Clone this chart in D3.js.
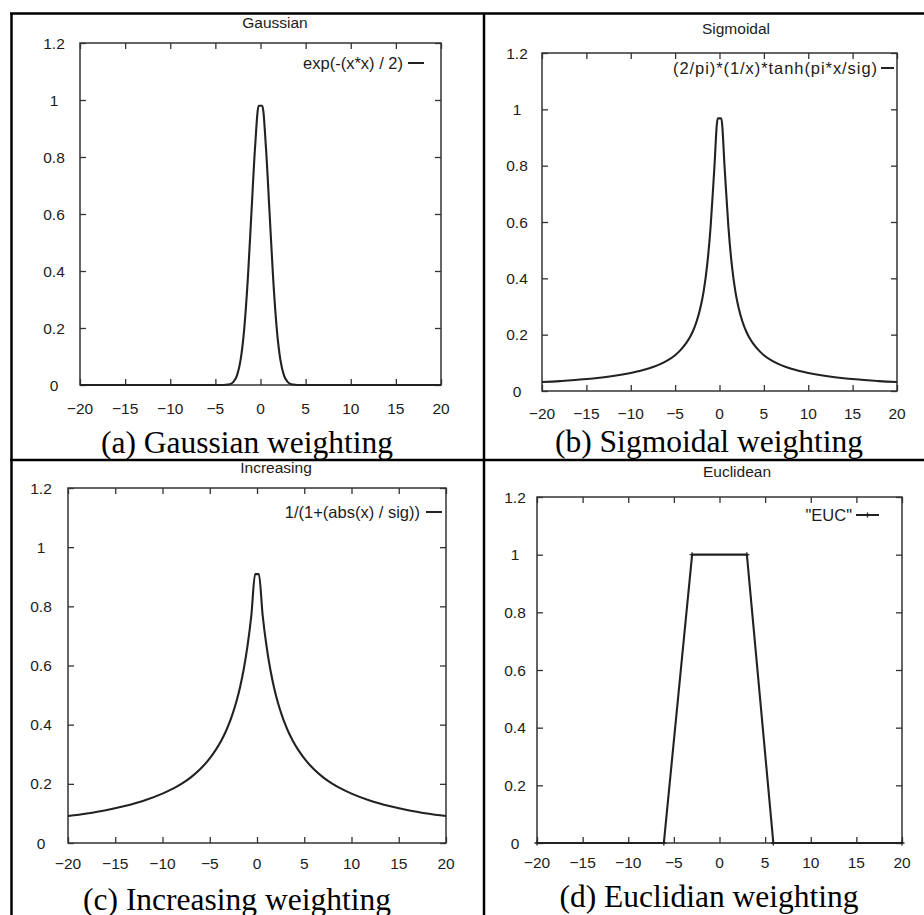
<!DOCTYPE html>
<html>
<head>
<meta charset="utf-8">
<script src="https://cdn.jsdelivr.net/npm/d3@7/dist/d3.min.js"></script>
<style>
  html, body { margin: 0; padding: 0; background: #fff; }
  svg { display: block; }
  .plot text { font-family: "Liberation Sans", Arial, sans-serif; fill: #1c1c1c; }
  .caption { font-family: "Liberation Serif", "Times New Roman", serif; fill: #000; }
</style>
</head>
<body>
<svg id="fig" width="924" height="915"></svg>
<script>
// ---- data -----------------------------------------------------------
const xGrid = [-20, -18, -16, -14, -12, -10, -9, -8, -7, -6, -5, -4.4, -3.8, -3.4, -3, -2.6, -2.2, -1.8, -1.4, -1, -0.6, -0.2,
               0.2, 0.6, 1, 1.4, 1.8, 2.2, 2.6, 3, 3.4, 3.8, 4.4, 5, 6, 7, 8, 9, 10, 12, 14, 16, 18, 20];

const gaussianY = [0, 0, 0, 0, 0, 0, 0, 0, 0, 0, 0, 0, 0.001, 0.003, 0.011, 0.034, 0.089, 0.198, 0.375, 0.607, 0.835, 0.980,
                   0.980, 0.835, 0.607, 0.375, 0.198, 0.089, 0.034, 0.011, 0.003, 0.001, 0, 0, 0, 0, 0, 0, 0, 0, 0, 0, 0, 0];

const sigmoidalY = [0.032, 0.035, 0.040, 0.045, 0.053, 0.064, 0.071, 0.080, 0.091, 0.106, 0.127, 0.145, 0.168, 0.187, 0.212, 0.245, 0.289, 0.351, 0.444, 0.584, 0.781, 0.968,
                    0.968, 0.781, 0.584, 0.444, 0.351, 0.289, 0.245, 0.212, 0.187, 0.168, 0.145, 0.127, 0.106, 0.091, 0.080, 0.071, 0.064, 0.053, 0.045, 0.040, 0.035, 0.032];

const increasingY = [0.091, 0.100, 0.111, 0.125, 0.143, 0.167, 0.182, 0.200, 0.222, 0.250, 0.286, 0.313, 0.345, 0.370, 0.400, 0.435, 0.476, 0.526, 0.588, 0.667, 0.769, 0.909,
                     0.909, 0.769, 0.667, 0.588, 0.526, 0.476, 0.435, 0.400, 0.370, 0.345, 0.313, 0.286, 0.250, 0.222, 0.200, 0.182, 0.167, 0.143, 0.125, 0.111, 0.100, 0.091];

const eucX = [-20, -6.1, -3, 3, 5.9, 20];
const eucY = [0, 0, 1, 1, 0, 0];

const xTicks = [-20, -15, -10, -5, 0, 5, 10, 15, 20];
const yTicks = [0, 0.2, 0.4, 0.6, 0.8, 1, 1.2];
const yTickLabels = ["0", "0.2", "0.4", "0.6", "0.8", "1", "1.2"];

const titles = ["Gaussian", "Sigmoidal", "Increasing", "Euclidean"];
const legendLabels = ["exp(-(x*x) / 2)", "(2/pi)*(1/x)*tanh(pi*x/sig)", "1/(1+(abs(x) / sig))", "\"EUC\""];
const captions = ["(a) Gaussian weighting", "(b) Sigmoidal weighting", "(c) Increasing weighting", "(d) Euclidian weighting"];

// ---- layout ---------------------------------------------------------
const panels = [
  { left: 80,  right: 441, top: 43,  bottom: 385, titleX: 275, titleY: 28,  ylabX: 54,  xlabY: 414,
    legY: 63,  legTextEnd: 403, legWidth: null, legLine: [408, 424], capX: 247, capY: 453,
    xs: xGrid, ys: gaussianY, markers: false },
  { left: 542, right: 897, top: 53,  bottom: 391, titleX: 736, titleY: 34,  ylabX: 517, xlabY: 419,
    legY: 68,  legTextEnd: 877, legWidth: 204, legLine: [881, 894], capX: 709, capY: 452,
    xs: xGrid, ys: sigmoidalY, markers: false },
  { left: 68,  right: 446, top: 488, bottom: 843, titleX: 276, titleY: 473, ylabX: 41,  xlabY: 869,
    legY: 512, legTextEnd: 420, legWidth: null, legLine: [426, 442], capX: 237, capY: 910,
    xs: xGrid, ys: increasingY, markers: false },
  { left: 537, right: 902, top: 497, bottom: 843, titleX: 737, titleY: 477, ylabX: 515, xlabY: 868,
    legY: 515, legTextEnd: 852, legWidth: null, legLine: [856, 879], capX: 709, capY: 907,
    xs: eucX, ys: eucY, markers: true }
];

const svg = d3.select("#fig");
const ink = "#222";
const fontPx = 15.5;

panels.forEach((p, i) => {
  const g = svg.append("g").attr("class", "plot");
  const x = d3.scaleLinear().domain([-20, 20]).range([p.left, p.right]);
  const y = d3.scaleLinear().domain([0, 1.2]).range([p.bottom, p.top]);
  const tick = 6;

  // frame with mirrored inward ticks
  g.append("rect")
    .attr("x", p.left).attr("y", p.top)
    .attr("width", p.right - p.left).attr("height", p.bottom - p.top)
    .attr("fill", "none").attr("stroke", "#333").attr("stroke-width", 1.5);

  const axisB = d3.axisBottom(x).tickValues(xTicks).tickSize(-tick).tickFormat("");
  const axisT = d3.axisTop(x).tickValues(xTicks).tickSize(-tick).tickFormat("");
  const axisL = d3.axisLeft(y).tickValues(yTicks).tickSize(-tick).tickFormat("");
  const axisR = d3.axisRight(y).tickValues(yTicks).tickSize(-tick).tickFormat("");

  g.append("g").attr("transform", `translate(0,${p.bottom})`).call(axisB);
  g.append("g").attr("transform", `translate(0,${p.top})`).call(axisT);
  g.append("g").attr("transform", `translate(${p.left},0)`).call(axisL);
  g.append("g").attr("transform", `translate(${p.right},0)`).call(axisR);
  g.selectAll(".domain").remove();
  g.selectAll(".tick line").attr("stroke", "#333").attr("stroke-width", 1.3);
  g.selectAll(".tick text").remove();

  // x tick labels
  g.append("g").selectAll("text").data(xTicks).join("text")
    .attr("x", d => x(d)).attr("y", p.xlabY)
    .attr("text-anchor", "middle").attr("font-size", fontPx)
    .text(d => d3.format("d")(d));

  // y tick labels
  g.append("g").selectAll("text").data(yTicks).join("text")
    .attr("x", p.ylabX).attr("y", d => y(d) + 5.5)
    .attr("text-anchor", "middle").attr("font-size", fontPx)
    .text((d, k) => yTickLabels[k]);

  // title
  g.append("text").attr("x", p.titleX).attr("y", p.titleY)
    .attr("text-anchor", "middle").attr("font-size", fontPx).text(titles[i]);

  // curve
  const pts = p.xs.map((v, k) => [v, p.ys[k]]);
  const line = d3.line().x(d => x(d[0])).y(d => y(d[1]))
    .curve(p.markers ? d3.curveLinear : d3.curveMonotoneX);
  g.append("path").datum(pts).attr("d", line)
    .attr("fill", "none").attr("stroke", ink).attr("stroke-width", 2.1).attr("stroke-linejoin", "round");

  // point markers
  const plus = (sel, cx, cy) => {
    sel.append("path")
      .attr("d", `M${cx - 2.5},${cy}H${cx + 2.5}M${cx},${cy - 2.5}V${cy + 2.5}`)
      .attr("stroke", ink).attr("stroke-width", 1.3);
  };
  if (p.markers) pts.forEach(d => plus(g, x(d[0]), y(d[1])));

  // legend
  const lt = g.append("text").attr("x", p.legTextEnd).attr("y", p.legY + 5.5)
    .attr("text-anchor", "end").attr("font-size", 16.5).text(legendLabels[i]);
  if (p.legWidth) lt.attr("textLength", p.legWidth).attr("lengthAdjust", "spacing");
  g.append("line").attr("x1", p.legLine[0]).attr("x2", p.legLine[1])
    .attr("y1", p.legY).attr("y2", p.legY).attr("stroke", ink).attr("stroke-width", 2);
  if (p.markers) plus(g, (p.legLine[0] + p.legLine[1]) / 2, p.legY);

  // caption
  svg.append("text").attr("class", "caption")
    .attr("x", p.capX).attr("y", p.capY)
    .attr("text-anchor", "middle").attr("font-size", 31.5).text(captions[i]);
});

// table rules separating the four panels
const rules = [
  [11.5, 13.5, 11.5, 915],
  [10, 13.5, 924, 13.5],
  [484, 13.5, 484, 915],
  [10, 460, 924, 460]
];
svg.append("g").selectAll("line").data(rules).join("line")
  .attr("x1", d => d[0]).attr("y1", d => d[1]).attr("x2", d => d[2]).attr("y2", d => d[3])
  .attr("stroke", "#000").attr("stroke-width", 2.5);
</script>
</body>
</html>
